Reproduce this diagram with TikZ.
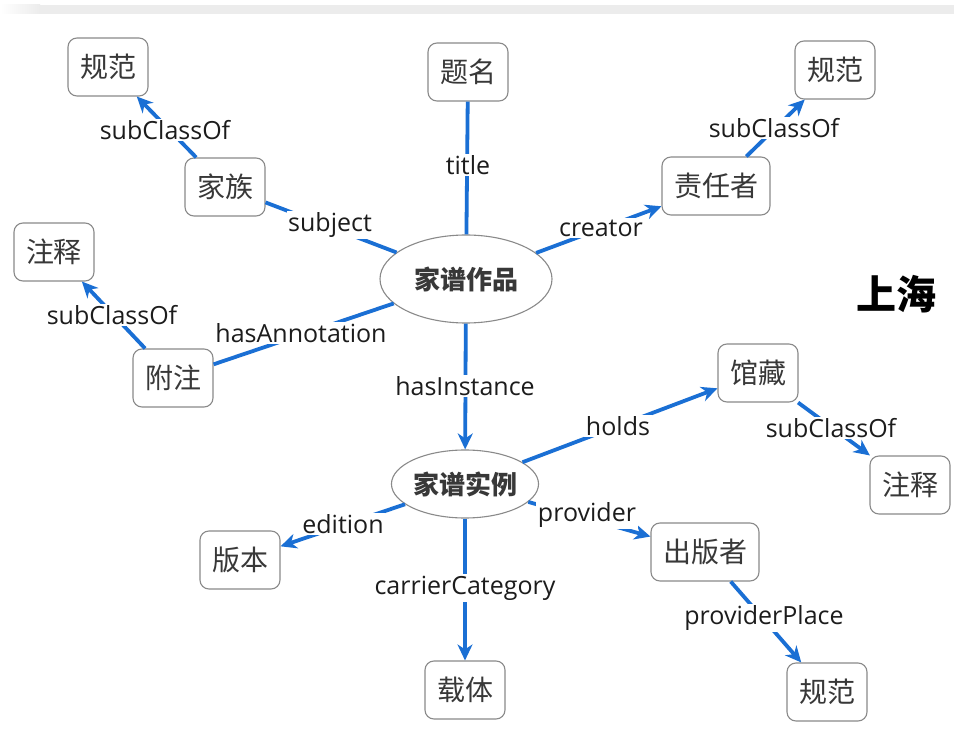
\documentclass[tikz,border=0pt]{standalone}
\usepackage{fontspec}
\setmainfont{Open Sans}
\newfontfamily\cjk{Noto Sans CJK SC}
\usetikzlibrary{arrows.meta,shapes.geometric}
\definecolor{edgeblue}{HTML}{1A6FD4}
\definecolor{boxline}{HTML}{8A8A8A}
\definecolor{boxtext}{HTML}{383838}
\definecolor{labtext}{HTML}{1C1C1C}
\tikzset{
  box/.style={draw=boxline, line width=1.1pt, rounded corners=9pt, fill=white,
    minimum height=58pt, inner xsep=12pt, inner ysep=0pt,
    font=\cjk\fontsize{28}{32}\selectfont, text=boxtext},
  ell/.style={ellipse, draw=boxline, line width=1.1pt, fill=white, inner sep=0pt,
    font=\cjk\bfseries\fontsize{26}{30}\selectfont, text=boxtext},
  lab/.style={fill=white, inner sep=1.5pt, text=labtext,
    font=\fontsize{25}{29}\selectfont},
  rel/.style={draw=edgeblue, line width=3.8pt},
  arr/.style={rel, -{Stealth[length=16pt,width=15pt,inset=5pt]}}
}
\begin{document}
\begin{tikzpicture}[x=1pt,y=-1pt]
\useasboundingbox (0,0) rectangle (954,735);
\clip (0,0) rectangle (954,735);
\fill[white] (0,0) rectangle (954,735);
% top grey bar
\shade[left color=white, right color=gray!15] (0,5) rectangle (40,14);
\fill[gray!15] (40,5) rectangle (954,14);

% nodes
\node[box] (gf1) at (108,67) {规范};
\node[box] (tm) at (468,72) {题名};
\node[box] (gf2) at (835,70) {规范};
\node[box] (jz) at (225,187) {家族};
\node[box] (zrz) at (716,186) {责任者};
\node[box] (zs1) at (54,252) {注释};
\node[ell, minimum width=172pt, minimum height=88pt] (zp) at (466,279) {家谱作品};
\node[box] (fz) at (173,378) {附注};
\node[box] (gc) at (758,373) {馆藏};
\node[box] (zs2) at (910,485) {注释};
\node[ell, minimum width=130pt, minimum height=68pt] (sl) at (465,484) {家谱实例};
\node[box] (bb) at (240,560) {版本};
\node[box] (zt) at (465,690) {载体};
\node[box] (cbz) at (705,552) {出版者};
\node[box] (gf3) at (827,692) {规范};

% connectors
\draw[arr] (jz) -- (gf1);
\draw[rel] (zp) -- (tm);
\draw[rel] (zp) -- (jz);
\draw[arr] (zp) -- (zrz);
\draw[arr] (zrz) -- (gf2);
\draw[rel] (zp) -- (fz);
\draw[arr] (fz) -- (zs1);
\draw[arr] (zp) -- (sl);
\draw[arr] (sl) -- (gc);
\draw[arr] (gc) -- (zs2);
\draw[arr] (sl) -- (bb);
\draw[arr] (sl) -- (cbz);
\draw[arr] (sl) -- (zt);
\draw[arr] (cbz) -- (gf3);

% connector labels
\node[lab] (l1) at (165,130) {subClassOf};
\node[lab] (l2) at (468,165) {title};
\node[lab] (l3) at (330,225) {subject};
\node[lab] (l4) at (601,228) {creator};
\node[lab] (l5) at (774,128) {subClassOf};
\node[lab] (l6) at (112,315) {subClassOf};
\node[lab] (l7) at (301,333) {hasAnnotation};
\node[lab] (l8) at (465,386) {hasInstance};
\node[lab] (l9) at (618,426) {holds};
\node[lab] (l10) at (831,428) {subClassOf};
\node[lab] (l11) at (343,524) {edition};
\node[lab] (l12) at (587,515) {provider};
\node[lab] (l13) at (465,588) {carrierCategory};
\node[lab] (l14) at (764,618) {providerPlace};

% logo fragment at right edge
\node[anchor=west, inner sep=0pt, font=\cjk\bfseries\fontsize{40}{44}\selectfont] (logo) at (856,294) {上海};
\end{tikzpicture}
\end{document}
